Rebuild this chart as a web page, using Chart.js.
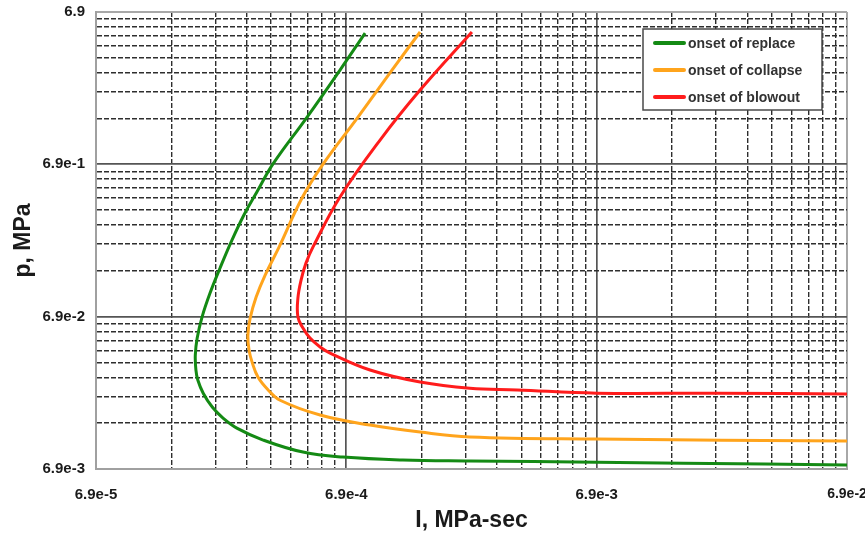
<!DOCTYPE html>
<html>
<head>
<meta charset="utf-8">
<script src="https://cdn.jsdelivr.net/npm/chart.js@4.4.0/dist/chart.umd.min.js"></script>
<style>
  html, body { margin: 0; padding: 0; background: #fff; }
</style>
</head>
<body>
<canvas id="chart" width="865" height="540"></canvas>
<script>
const seriesNames = ['onset of replace', 'onset of collapse', 'onset of blowout'];
const seriesColors = ['#148a14', '#ffa41c', '#ff1c1c'];

// impulse I (MPa-sec) and pressure p (MPa)
const replaceI = [8.2e-4, 6.51e-4, 4.81e-4, 3.51e-4, 3.03e-4, 2.69e-4, 2.39e-4, 2.16e-4, 1.97e-4, 1.83e-4, 1.75e-4, 1.72e-4, 1.73e-4, 1.76e-4, 1.85e-4, 2.01e-4, 2.22e-4, 2.52e-4, 3.21e-4, 4.63e-4, 6.69e-4, 1.16e-3, 2.15e-3, 6.9e-3, 1.53e-2, 6.9e-2];
const replaceP = [5.02, 2.87, 1.41, 0.692, 0.454, 0.321, 0.213, 0.144, 0.0986, 0.0686, 0.0499, 0.0386, 0.0308, 0.0265, 0.0217, 0.0176, 0.0149, 0.0128, 0.01069, 0.00891, 0.00826, 0.00790, 0.00779, 0.00765, 0.00754, 0.00732];

const collapseI = [1.36e-3, 1.05e-3, 7.68e-4, 5.57e-4, 4.59e-4, 3.72e-4, 3.27e-4, 3.01e-4, 2.85e-4, 2.79e-4, 2.82e-4, 2.90e-4, 3.06e-4, 3.36e-4, 3.75e-4, 5.42e-4, 8.58e-4, 1.36e-3, 2.15e-3, 6.9e-3, 6.9e-2];
const collapseP = [5.10, 2.87, 1.41, 0.692, 0.4145, 0.198, 0.1294, 0.0928, 0.0676, 0.0522, 0.0416, 0.0347, 0.0277, 0.0228, 0.0195, 0.0156, 0.0134, 0.01205, 0.0112, 0.01084, 0.01052];

const blowoutI = [2.19e-3, 1.36e-3, 9.41e-4, 6.51e-4, 5.08e-4, 4.76e-4, 4.55e-4, 4.42e-4, 4.42e-4, 4.63e-4, 4.94e-4, 5.42e-4, 5.94e-4, 8.58e-4, 1.36e-3, 2.15e-3, 3.32e-3, 6.9e-3, 2.09e-2, 6.9e-2];
const blowoutP = [5.10, 2.12, 0.996, 0.421, 0.198, 0.155, 0.120, 0.0914, 0.0686, 0.0581, 0.0499, 0.0436, 0.0398, 0.0308, 0.0257, 0.0234, 0.0228, 0.0217, 0.0217, 0.0214];

const xMajorTicks = [6.9e-5, 6.9e-4, 6.9e-3, 6.9e-2];
const xTickLabels = ['6.9e-5', '6.9e-4', '6.9e-3', '6.9e-2'];
const yMajorTicks = [6.9e-3, 6.9e-2, 6.9e-1, 6.9];
const yTickLabels = ['6.9e-3', '6.9e-2', '6.9e-1', '6.9'];
const minorSteps = [1, 2, 3, 4, 5, 6, 7, 8, 9];

function toPoints(xs, ys) {
  return xs.map((x, i) => ({ x: x, y: ys[i] }));
}

function buildTicks(majors) {
  const ticks = [];
  for (let i = 0; i < majors.length - 1; i++) {
    minorSteps.forEach(k => ticks.push({ value: majors[i] * k, major: k === 1 }));
  }
  ticks.push({ value: majors[majors.length - 1], major: true });
  return ticks;
}

function labelFor(value, majors, labels) {
  const idx = majors.findIndex(m => Math.abs(value / m - 1) < 1e-6);
  return idx >= 0 ? labels[idx] : '';
}

function isEdge(ctx, majors) {
  if (!ctx.tick) return false;
  const v = ctx.tick.value;
  return Math.abs(v / majors[0] - 1) < 1e-6 || Math.abs(v / majors[majors.length - 1] - 1) < 1e-6;
}

function gridColor(ctx, majors) {
  if (!ctx.tick) return '#a0a0a0';
  if (isEdge(ctx, majors)) return '#a8a8a8';
  return ctx.tick.major ? '#555' : '#2e2e2e';
}

function gridWidth(ctx, majors) {
  if (!ctx.tick) return 2;
  if (isEdge(ctx, majors)) return 2;
  return ctx.tick.major ? 1.7 : 1.4;
}

function gridDash(ctx) {
  return (ctx.tick && !ctx.tick.major) ? [5, 2] : [];
}

const fontFamily = 'Liberation Sans, Arial, sans-serif';
const tickFont = { family: fontFamily, size: 15, weight: 'bold' };
const titleFont = { family: fontFamily, size: 23, weight: 'bold' };

const legendBox = {
  id: 'legendBox',
  afterDatasetsDraw(chart) {
    const c = chart.ctx;
    const bx = 643, by = 29, bw = 179, bh = 81;
    c.save();
    c.fillStyle = '#fff';
    c.fillRect(bx, by, bw, bh);
    c.strokeStyle = '#4a4a4a';
    c.lineWidth = 1.5;
    c.strokeRect(bx, by, bw, bh);
    chart.data.datasets.forEach((ds, i) => {
      const ry = by + 14 + i * 27;
      c.strokeStyle = ds.borderColor;
      c.lineWidth = 4;
      c.lineCap = 'round';
      c.beginPath();
      c.moveTo(655, ry);
      c.lineTo(684, ry);
      c.stroke();
      c.fillStyle = '#333';
      c.font = 'bold 14px ' + fontFamily;
      c.textBaseline = 'middle';
      c.textAlign = 'left';
      c.fillText(ds.label, 688, ry + 1);
    });
    c.restore();
  }
};

new Chart(document.getElementById('chart'), {
  type: 'scatter',
  data: {
    datasets: [
      { label: seriesNames[0], data: toPoints(replaceI, replaceP), borderColor: seriesColors[0] },
      { label: seriesNames[1], data: toPoints(collapseI, collapseP), borderColor: seriesColors[1] },
      { label: seriesNames[2], data: toPoints(blowoutI, blowoutP), borderColor: seriesColors[2] }
    ].map(ds => Object.assign(ds, {
      showLine: true,
      pointRadius: 0,
      borderWidth: 3,
      tension: 0.4,
      fill: false
    }))
  },
  options: {
    responsive: false,
    animation: false,
    layout: { padding: { top: 12, right: 18, left: 0, bottom: 0 } },
    plugins: {
      legend: { display: false },
      tooltip: { enabled: false }
    },
    scales: {
      x: {
        type: 'logarithmic',
        min: xMajorTicks[0],
        max: xMajorTicks[xMajorTicks.length - 1],
        afterBuildTicks: scale => { scale.ticks = buildTicks(xMajorTicks); },
        afterFit: scale => {
          scale.height = 71;
          scale.paddingLeft = 0;
          scale.paddingRight = 0;
        },
        ticks: {
          autoSkip: false,
          maxRotation: 0,
          padding: 17,
          color: '#1a1a1a',
          // the last label sits at the canvas edge, keep it a bit narrower
          font: ctx => (ctx.tick && ctx.tick.value === xMajorTicks[xMajorTicks.length - 1])
            ? { family: fontFamily, size: 14, weight: 'bold' } : tickFont,
          callback: value => labelFor(value, xMajorTicks, xTickLabels)
        },
        grid: {
          drawTicks: false,
          color: ctx => gridColor(ctx, xMajorTicks),
          lineWidth: ctx => gridWidth(ctx, xMajorTicks)
        },
        border: { color: '#a0a0a0', width: 2, dash: gridDash },
        title: {
          display: true,
          text: 'I, MPa-sec',
          color: '#1a1a1a',
          font: titleFont,
          padding: { top: 0, bottom: 6 }
        }
      },
      y: {
        type: 'logarithmic',
        min: yMajorTicks[0],
        max: yMajorTicks[yMajorTicks.length - 1],
        afterBuildTicks: scale => { scale.ticks = buildTicks(yMajorTicks); },
        afterFit: scale => {
          scale.width = 96;
          scale.paddingTop = 0;
          scale.paddingBottom = 0;
        },
        ticks: {
          autoSkip: false,
          padding: 11,
          color: '#1a1a1a',
          font: tickFont,
          callback: value => labelFor(value, yMajorTicks, yTickLabels)
        },
        grid: {
          drawTicks: false,
          color: ctx => gridColor(ctx, yMajorTicks),
          lineWidth: ctx => gridWidth(ctx, yMajorTicks)
        },
        border: { color: '#a0a0a0', width: 2, dash: gridDash },
        title: {
          display: true,
          text: 'p, MPa',
          color: '#1a1a1a',
          font: titleFont,
          padding: { top: 10, bottom: 0 }
        }
      }
    }
  },
  plugins: [legendBox]
});
</script>
</body>
</html>
